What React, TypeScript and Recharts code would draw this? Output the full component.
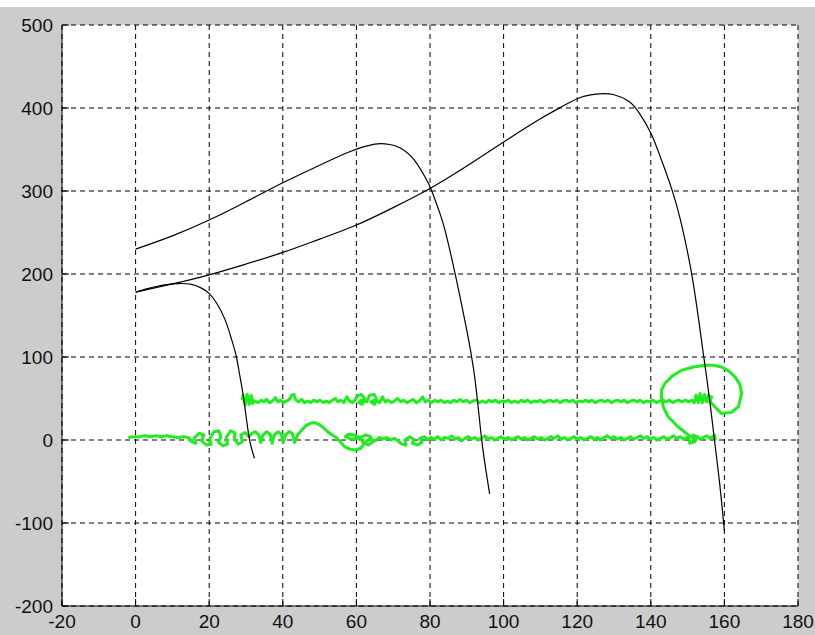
import React from 'react';
import { LineChart, Line, XAxis, YAxis, CartesianGrid } from 'recharts';

// axis ticks
const xTicks = [-20, 0, 20, 40, 60, 80, 100, 120, 140, 160, 180];
const yTicks = [-200, -100, 0, 100, 200, 300, 400, 500];

// black trajectories [x, y]
const curveA = [
  [0, 230], [10, 246], [20, 265], [30, 287], [40, 310], [50, 331], [58, 347],
  [65, 356.5], [69, 356], [72.3, 351], [75.8, 337], [78.5, 318], [80.4, 301],
  [82.3, 278], [84, 254], [86.7, 203], [88.6, 163], [90, 132], [92.2, 74], [94, 2], [95.6, -48], [96.2, -65],
];

const curveB = [
  [0, 178], [10, 188], [20, 199], [30, 212], [40, 226], [50, 242], [60, 259], [70, 280],
  [80, 303], [90, 330], [100, 359], [110, 387], [116, 402], [121, 413],
  [126, 417], [130, 416], [134, 408], [137, 393], [140, 370], [142, 348], [144, 324],
  [146, 298], [148, 266], [150, 226], [151.5, 190], [153, 145], [154.4, 100], [156, 48],
  [157.3, 0], [158.7, -52], [160, -110],
];

const curveC = [
  [0, 178], [3, 182], [6.2, 185.5], [9, 187.5], [11.6, 188.5], [15.2, 187.5], [17.9, 183], [19.9, 177],
  [22, 165], [24.3, 145], [26.1, 121], [27.4, 100], [28.3, 78], [29.3, 52], [30.6, 10], [31.5, -10],
  [32.3, -22],
];

// green measurements [x, y]
const greenUpper = [
  [29.0, 48], [29.2, 54], [29.8, 42], [30.3, 55], [30.9, 43], [31.4, 54], [31.9, 44], [30.2, 50], [32.4, 47],
  [33.3, 45], [34.1, 48], [34.9, 46], [35.6, 49], [36.4, 45], [37.2, 47], [38.0, 51], [38.6, 46], [39.4, 48],
  [40.2, 45], [41.0, 47], [41.8, 49], [42.4, 54], [43.0, 55], [43.6, 48], [44.3, 46], [45.1, 49], [45.9, 45],
  [46.8, 47], [47.6, 45], [48.4, 48], [49.3, 46], [50.1, 48], [51.0, 45], [51.8, 47], [52.6, 45], [53.5, 48],
  [54.3, 50], [55.0, 46], [55.8, 48], [56.6, 45], [57.4, 52], [58.1, 47], [58.9, 45], [59.6, 48],
  [60.2, 53], [61.3, 55], [62.2, 50], [61.6, 43], [60.6, 45], [61.4, 48], [62.8, 46], [63.6, 54], [64.8, 55],
  [65.5, 49], [64.9, 43], [63.9, 46], [65.0, 48], [66.3, 45], [67.1, 52], [67.8, 46], [68.6, 48],
  [69.5, 45], [70.3, 47], [71.2, 50], [72.0, 46], [72.8, 48], [73.7, 45], [74.6, 47], [75.4, 49], [76.3, 45],
  [77.1, 47], [78.0, 52], [78.7, 46], [79.5, 48], [80.4, 45], [81.3, 48], [82.1, 46], [83.0, 48], [83.9, 45],
  [84.8, 47], [85.6, 45], [86.5, 48], [87.3, 46], [88.2, 49], [89.0, 46], [89.9, 48], [90.8, 45], [91.7, 47],
  [92.5, 48], [93.4, 45], [94.3, 47], [95.2, 45], [96.0, 48], [96.9, 46], [97.8, 48], [98.6, 45], [99.5, 47],
  [100.4, 46], [101.3, 48], [102.1, 45], [103.0, 47], [103.9, 45], [104.8, 48], [105.6, 46], [106.5, 48],
  [107.4, 45], [108.3, 47], [109.1, 46], [110.0, 48], [110.9, 45], [111.8, 47], [112.6, 48], [113.5, 46],
  [114.4, 48], [115.3, 45], [116.1, 47], [117.0, 48], [117.9, 46], [118.8, 48], [119.6, 45], [120.5, 47],
  [121.4, 46], [122.3, 48], [123.1, 46], [124.0, 48], [124.9, 45], [125.8, 47], [126.6, 48], [127.5, 46],
  [128.4, 48], [129.3, 45], [130.1, 47], [131.0, 48], [131.9, 46], [132.8, 48], [133.6, 45], [134.5, 47],
  [135.4, 48], [136.3, 46], [137.1, 48], [138.0, 45], [138.9, 47], [139.8, 46], [140.6, 48], [141.5, 45],
  [142.4, 47], [143.3, 48], [144.1, 46], [145.0, 48], [145.9, 45], [146.8, 47], [147.6, 48], [148.5, 46],
  [149.4, 48], [150.3, 46], [151.1, 48],
  [151.8, 45], [152.3, 54], [152.9, 45], [153.4, 56], [154.0, 45], [154.6, 55], [155.1, 46], [155.7, 54],
  [156.2, 47], [156.5, 52], [155.3, 50],
  [157.4, 40], [159.2, 32], [161.8, 33], [163.8, 40], [164.7, 56], [164.2, 67], [162.9, 76], [161.2, 83],
  [159.2, 88], [157.0, 90], [154.7, 90], [151.5, 88], [148.4, 84], [145.8, 77], [143.8, 68], [142.9, 60],
  [142.9, 52], [143.4, 40], [144.7, 28], [147.4, 16], [150.2, 6], [150.6, -4], [152.0, -2], [151.5, 6],
  [153.0, 3],
];

const greenLower = [
  [-2.0, 3], [-0.5, 4], [1, 4], [2.5, 5], [4, 4], [5.5, 5], [7, 4], [8.5, 5], [10, 4], [11.5, 3], [13, 4], [14.3, 3],
  [15.2, -2], [16.4, -4], [16.0, 3], [17.3, 8], [18.5, 6], [18.0, -1], [19.2, -6], [20.5, -5], [20.2, 2],
  [21.3, 10], [22.6, 11], [23.2, 4], [22.5, -3], [23.8, -7], [25.0, -5], [24.6, 3], [25.8, 11], [27.0, 9],
  [26.8, 1], [27.9, -5], [29.0, -2], [28.6, 6], [29.8, 9], [30.8, 4],
  [31.6, 8], [32.6, 10], [33.5, 6], [34.0, -3], [34.6, 6], [35.6, 10], [36.6, 7], [37.1, -4], [37.7, 6],
  [38.7, 10], [39.6, 7], [40.1, -3], [40.7, 6], [41.7, 10], [42.6, 8], [43.2, -3],
  [44.0, 6], [45.0, 11], [46.2, 17], [47.4, 20], [48.6, 21], [49.8, 19], [51.0, 15], [52.2, 10], [53.4, 6], [54.5, 3],
  [55.6, -2], [56.8, -8], [58.2, -11], [59.8, -12], [61.2, -10], [62.0, -5], [61.2, 2], [59.5, 6], [57.8, 7],
  [57.0, 4], [58.5, 1], [60.5, 2], [62.5, 6], [63.8, 4], [64.5, -2], [63.2, -6], [62.2, -3], [63.5, 1],
  [65.2, -1], [66.2, 3], [67.2, 1], [68.3, 3], [69.3, 0], [70.3, 2], [71.3, -1],
  [72.3, -5], [73.5, -6], [73.2, 0], [74.5, 4], [75.6, 1], [75.2, -4], [76.6, -6], [77.8, -3], [77.2, 2],
  [78.5, 4], [79.4, 0],
  [80.3, 3], [81.2, 1], [82.1, 4], [83.0, 0], [84.0, 3], [85.0, 2], [85.9, 5], [86.8, 1], [87.7, 3], [88.6, -1],
  [89.5, 2], [90.4, 4], [91.3, 1], [92.2, 3], [93.1, 0], [94.0, 2], [94.9, 5], [95.8, 1], [96.7, 3], [97.6, 0],
  [98.5, 2], [99.4, 4], [100.3, 1], [101.2, 3], [102.1, 0], [103.0, 2], [103.9, 4], [104.8, 1], [105.7, 3],
  [106.6, 0], [107.5, 2], [108.4, 4], [109.3, 1], [110.2, 3], [111.1, 0], [112.0, 2], [112.9, 4], [113.8, 2],
  [114.7, 5], [115.6, 1], [116.5, 3], [117.4, 0], [118.3, 2], [119.2, 4], [120.1, 1], [121.0, 3], [121.9, 0],
  [122.8, 2], [123.7, 4], [124.6, 1], [125.5, 3], [126.4, 0], [127.3, 3], [128.2, 5], [129.1, 2], [130.0, 4],
  [130.9, 1], [131.8, 3], [132.7, 0], [133.6, 2], [134.5, 4], [135.4, 1], [136.3, 3], [137.2, 5], [138.1, 2],
  [139.0, 4], [139.9, 1], [140.8, 3], [141.7, 0], [142.6, 2], [143.5, 4], [144.4, 1], [145.3, 3], [146.2, 5],
  [147.1, 2], [148.0, 4], [148.9, 1], [149.8, 3], [150.7, 5], [151.6, 2], [152.5, 4], [153.4, 1], [154.3, 3],
  [155.2, 5], [156.0, 2], [156.8, 4], [157.3, 6], [157.5, 1], [157.0, 3],
];

const toPoints = (pts: number[][]) => pts.map(([x, y]) => ({ x, y }));

const tickStyle = { fill: '#111', fontSize: 19, fontFamily: '"Liberation Sans", Arial, sans-serif' };
const GREEN = '#1eee1e';

export default function App() {
  return (
    <div style={{ position: 'absolute', left: 0, top: 0, width: 815, height: 635, background: '#cccccc' }}>
      <div style={{ position: 'absolute', left: 0, top: 0, width: 815, height: 7, background: '#ffffff' }} />
      <LineChart width={815} height={635} margin={{ top: 25, right: 17, bottom: 0, left: 0 }}>
        <CartesianGrid fill="#ffffff" stroke="#000" strokeDasharray="5 4" strokeWidth={1} />
        <XAxis
          dataKey="x"
          type="number"
          domain={[-20, 180]}
          ticks={xTicks}
          interval={0}
          allowDataOverflow
          height={29}
          tickSize={-7}
          tickMargin={16}
          stroke="#000"
          tick={tickStyle}
        />
        <XAxis
          xAxisId="top"
          orientation="top"
          dataKey="x"
          type="number"
          domain={[-20, 180]}
          ticks={xTicks}
          interval={0}
          allowDataOverflow
          height={0}
          tickSize={-7}
          tick={false}
          stroke="#000"
        />
        <YAxis
          type="number"
          domain={[-200, 500]}
          ticks={yTicks}
          interval={0}
          allowDataOverflow
          width={62}
          tickSize={-7}
          tickMargin={16}
          stroke="#000"
          tick={tickStyle}
        />
        <YAxis
          yAxisId="right"
          orientation="right"
          type="number"
          domain={[-200, 500]}
          ticks={yTicks}
          interval={0}
          allowDataOverflow
          width={0}
          tickSize={-7}
          tick={false}
          stroke="#000"
        />
        <Line data={toPoints(greenLower)} dataKey="y" type="linear" stroke={GREEN} strokeWidth={3}
          strokeLinejoin="round" dot={false} isAnimationActive={false} />
        <Line data={toPoints(greenUpper)} dataKey="y" type="linear" stroke={GREEN} strokeWidth={3}
          strokeLinejoin="round" dot={false} isAnimationActive={false} />
        <Line data={toPoints(curveA)} dataKey="y" type="natural" stroke="#000" strokeWidth={1.2}
          dot={false} isAnimationActive={false} />
        <Line data={toPoints(curveB)} dataKey="y" type="natural" stroke="#000" strokeWidth={1.2}
          dot={false} isAnimationActive={false} />
        <Line data={toPoints(curveC)} dataKey="y" type="natural" stroke="#000" strokeWidth={1.2}
          dot={false} isAnimationActive={false} />
      </LineChart>
    </div>
  );
}
